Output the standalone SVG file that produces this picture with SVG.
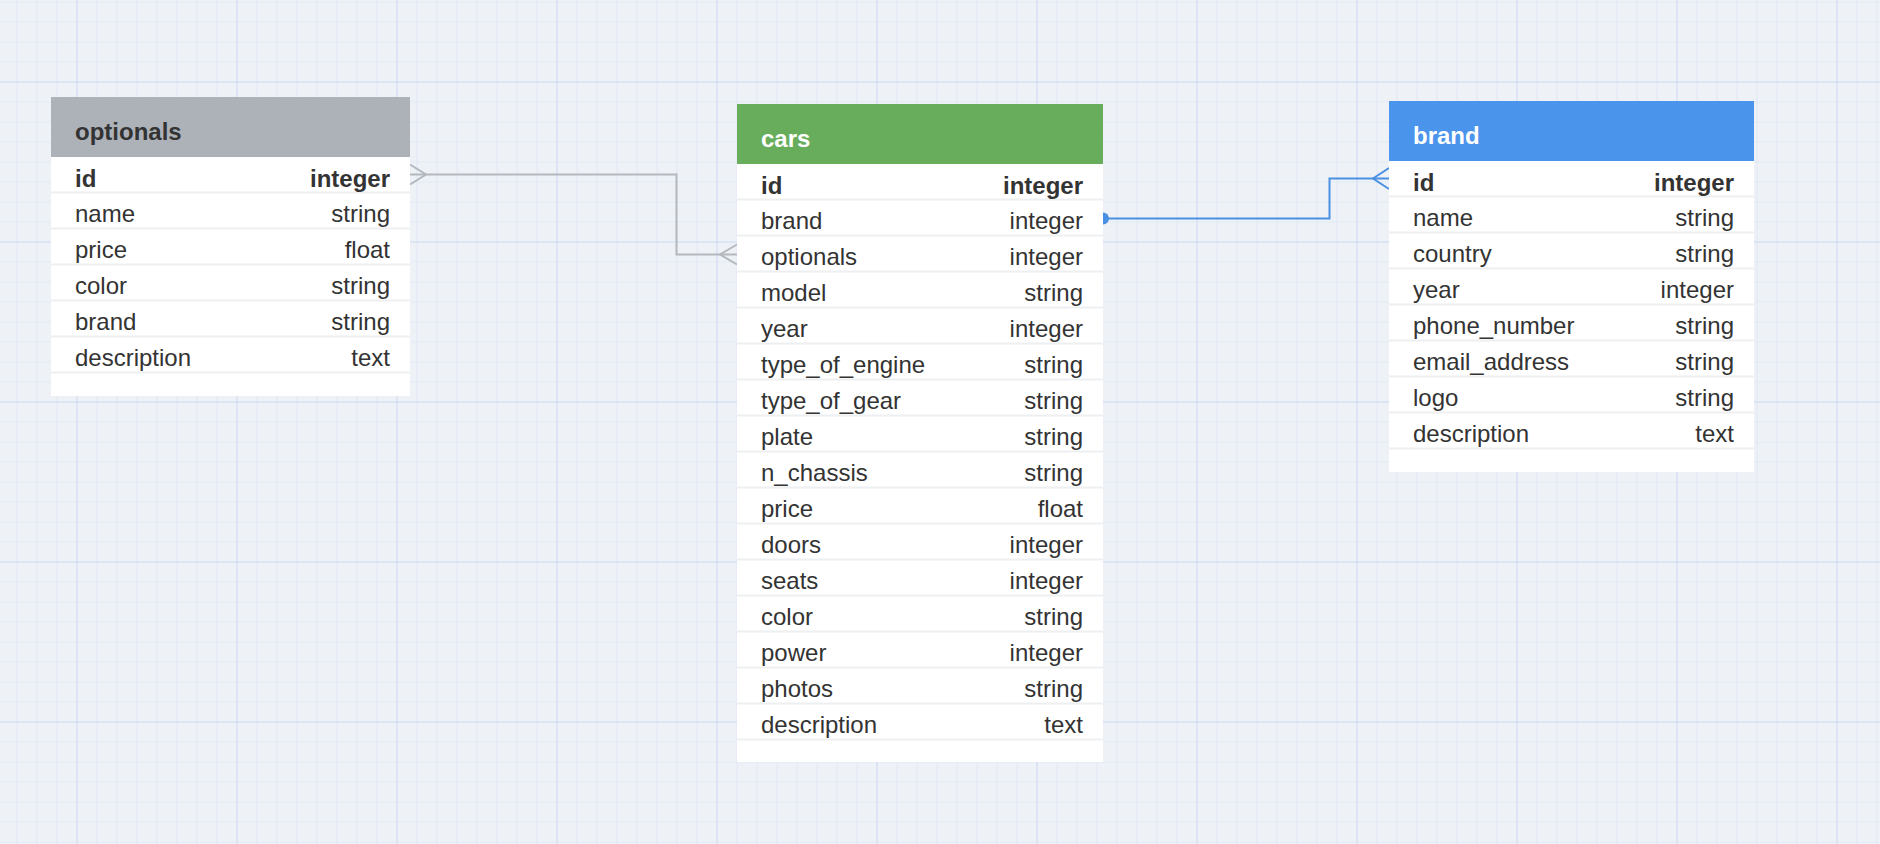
<svg xmlns="http://www.w3.org/2000/svg" width="1880" height="844" viewBox="0 0 1880 844">
<style>
.hd{font-family:"Liberation Sans",Arial,sans-serif;font-size:24px;font-weight:bold}
.f{font-family:"Liberation Sans",Arial,sans-serif;font-size:24px;fill:#333}
.b{font-weight:bold}
.t{text-anchor:end}
.row{fill:#ffffff}
.sep{fill:#edeff1}
.gl{fill:none;stroke:#b3b8be;stroke-width:2}
.bl{fill:none;stroke:#4a90e2;stroke-width:2}
</style>
<defs>
<pattern id="minor" width="20" height="20" patternUnits="userSpaceOnUse" x="16.5" y="1.5">
<path d="M0 0V20M0 0H20" fill="none" stroke="#d8e2f4" stroke-width="1.2"/>
</pattern>
<pattern id="major" width="160" height="160" patternUnits="userSpaceOnUse" x="76.5" y="81.5">
<path d="M0 0V160M0 0H160" fill="none" stroke="#c9d7f1" stroke-width="1.4"/>
</pattern>
</defs>
<rect width="1880" height="844" fill="#eef2f6"/>
<rect width="1880" height="844" fill="url(#minor)"/>
<rect width="1880" height="844" fill="url(#major)"/>

<g id="connectors">
<path class="gl" d="M410 174.5H676.5V254.5H737"/>
<path class="gl" d="M410 164.5L426 174.5L410 184.5"/>
<path class="gl" d="M737 244.5L720 254.5L737 264.5"/>
<path class="bl" d="M1103 218.5H1329.5V178.5H1389"/>
<path class="bl" d="M1389 168L1373 178.5L1389 189"/>
<path d="M1103 212.5A6 6 0 0 1 1103 224.5Z" fill="#4a90e2"/>
</g>

<g id="optionals" transform="translate(51,97)">
<rect class="row" x="0" y="0" width="359" height="299"/>
<rect x="0" y="0" width="359" height="60" fill="#adb2b9"/>
<text class="hd" x="24" y="42.5" fill="#333">optionals</text>
<rect class="sep" x="0" y="94.5" width="359" height="2"/>
<rect class="sep" x="0" y="130.5" width="359" height="2"/>
<rect class="sep" x="0" y="166.5" width="359" height="2"/>
<rect class="sep" x="0" y="202.5" width="359" height="2"/>
<rect class="sep" x="0" y="238.5" width="359" height="2"/>
<rect class="sep" x="0" y="274.5" width="359" height="2"/>
<text class="f b" x="24" y="90">id</text><text class="f b t" x="339" y="90">integer</text>
<text class="f" x="24" y="125">name</text><text class="f t" x="339" y="125">string</text>
<text class="f" x="24" y="161">price</text><text class="f t" x="339" y="161">float</text>
<text class="f" x="24" y="197">color</text><text class="f t" x="339" y="197">string</text>
<text class="f" x="24" y="233">brand</text><text class="f t" x="339" y="233">string</text>
<text class="f" x="24" y="269">description</text><text class="f t" x="339" y="269">text</text>
</g>

<g id="cars" transform="translate(737,104)">
<rect class="row" x="0" y="0" width="366" height="658"/>
<rect x="0" y="0" width="366" height="60" fill="#68ad5c"/>
<text class="hd" x="24" y="42.5" fill="#ffffff">cars</text>
<rect class="sep" x="0" y="94.5" width="366" height="2"/>
<rect class="sep" x="0" y="130.5" width="366" height="2"/>
<rect class="sep" x="0" y="166.5" width="366" height="2"/>
<rect class="sep" x="0" y="202.5" width="366" height="2"/>
<rect class="sep" x="0" y="238.5" width="366" height="2"/>
<rect class="sep" x="0" y="274.5" width="366" height="2"/>
<rect class="sep" x="0" y="310.5" width="366" height="2"/>
<rect class="sep" x="0" y="346.5" width="366" height="2"/>
<rect class="sep" x="0" y="382.5" width="366" height="2"/>
<rect class="sep" x="0" y="418.5" width="366" height="2"/>
<rect class="sep" x="0" y="454.5" width="366" height="2"/>
<rect class="sep" x="0" y="490.5" width="366" height="2"/>
<rect class="sep" x="0" y="526.5" width="366" height="2"/>
<rect class="sep" x="0" y="562.5" width="366" height="2"/>
<rect class="sep" x="0" y="598.5" width="366" height="2"/>
<rect class="sep" x="0" y="634.5" width="366" height="2"/>
<text class="f b" x="24" y="90">id</text><text class="f b t" x="346" y="90">integer</text>
<text class="f" x="24" y="125">brand</text><text class="f t" x="346" y="125">integer</text>
<text class="f" x="24" y="161">optionals</text><text class="f t" x="346" y="161">integer</text>
<text class="f" x="24" y="197">model</text><text class="f t" x="346" y="197">string</text>
<text class="f" x="24" y="233">year</text><text class="f t" x="346" y="233">integer</text>
<text class="f" x="24" y="269">type_of_engine</text><text class="f t" x="346" y="269">string</text>
<text class="f" x="24" y="305">type_of_gear</text><text class="f t" x="346" y="305">string</text>
<text class="f" x="24" y="341">plate</text><text class="f t" x="346" y="341">string</text>
<text class="f" x="24" y="377">n_chassis</text><text class="f t" x="346" y="377">string</text>
<text class="f" x="24" y="413">price</text><text class="f t" x="346" y="413">float</text>
<text class="f" x="24" y="449">doors</text><text class="f t" x="346" y="449">integer</text>
<text class="f" x="24" y="485">seats</text><text class="f t" x="346" y="485">integer</text>
<text class="f" x="24" y="521">color</text><text class="f t" x="346" y="521">string</text>
<text class="f" x="24" y="557">power</text><text class="f t" x="346" y="557">integer</text>
<text class="f" x="24" y="593">photos</text><text class="f t" x="346" y="593">string</text>
<text class="f" x="24" y="629">description</text><text class="f t" x="346" y="629">text</text>
</g>

<g id="brand" transform="translate(1389,101)">
<rect class="row" x="0" y="0" width="365" height="371"/>
<rect x="0" y="0" width="365" height="60" fill="#4a94eb"/>
<text class="hd" x="24" y="42.5" fill="#ffffff">brand</text>
<rect class="sep" x="0" y="94.5" width="365" height="2"/>
<rect class="sep" x="0" y="130.5" width="365" height="2"/>
<rect class="sep" x="0" y="166.5" width="365" height="2"/>
<rect class="sep" x="0" y="202.5" width="365" height="2"/>
<rect class="sep" x="0" y="238.5" width="365" height="2"/>
<rect class="sep" x="0" y="274.5" width="365" height="2"/>
<rect class="sep" x="0" y="310.5" width="365" height="2"/>
<rect class="sep" x="0" y="346.5" width="365" height="2"/>
<text class="f b" x="24" y="90">id</text><text class="f b t" x="345" y="90">integer</text>
<text class="f" x="24" y="125">name</text><text class="f t" x="345" y="125">string</text>
<text class="f" x="24" y="161">country</text><text class="f t" x="345" y="161">string</text>
<text class="f" x="24" y="197">year</text><text class="f t" x="345" y="197">integer</text>
<text class="f" x="24" y="233">phone_number</text><text class="f t" x="345" y="233">string</text>
<text class="f" x="24" y="269">email_address</text><text class="f t" x="345" y="269">string</text>
<text class="f" x="24" y="305">logo</text><text class="f t" x="345" y="305">string</text>
<text class="f" x="24" y="341">description</text><text class="f t" x="345" y="341">text</text>
</g>
</svg>
